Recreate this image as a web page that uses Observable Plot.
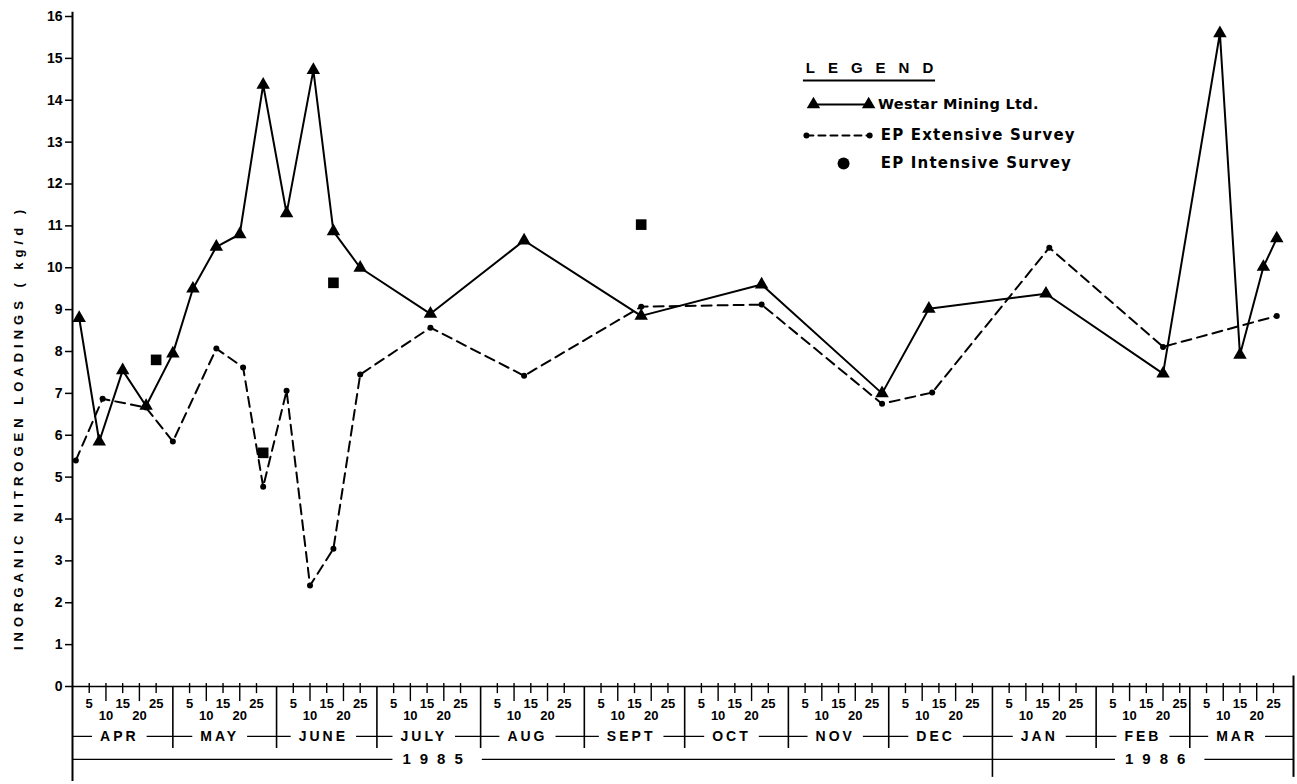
<!DOCTYPE html>
<html><head><meta charset="utf-8">
<script src="https://cdn.jsdelivr.net/npm/d3@7"></script>
<script src="https://cdn.jsdelivr.net/npm/@observablehq/plot@0.6"></script>
<style>
html,body{margin:0;padding:0;background:#fff;}
#chart svg{display:block;}
</style>
</head><body><div id="chart"></div>
<script>
const parse = d3.timeParse("%Y-%m-%d");

// Westar Mining Ltd. (solid line, triangles)
const westarDates = ["1985-04-02","1985-04-08","1985-04-15","1985-04-22","1985-04-30","1985-05-06","1985-05-13","1985-05-20","1985-05-27","1985-06-03","1985-06-11","1985-06-17","1985-06-25","1985-07-16","1985-08-13","1985-09-17","1985-10-23","1985-11-28","1985-12-12","1986-01-16","1986-02-20","1986-03-09","1986-03-15","1986-03-22","1986-03-26"];
const westarValues = [8.8, 5.85, 7.55, 6.7, 7.95, 9.5, 10.5, 10.8, 14.37, 11.3, 14.72, 10.87, 10.0, 8.9, 10.65, 8.85, 9.6, 7.0, 9.02, 9.38, 7.47, 15.6, 7.92, 10.02, 10.7];

// EP Extensive Survey (dashed line, small dots)
const extDates = ["1985-04-01","1985-04-09","1985-04-22","1985-04-30","1985-05-13","1985-05-21","1985-05-27","1985-06-03","1985-06-10","1985-06-17","1985-06-25","1985-07-16","1985-08-13","1985-09-17","1985-10-23","1985-11-28","1985-12-13","1986-01-17","1986-02-20","1986-03-26"];
const extValues = [5.4, 6.87, 6.66, 5.85, 8.07, 7.62, 4.77, 7.06, 2.41, 3.29, 7.45, 8.57, 7.42, 9.07, 9.12, 6.75, 7.02, 10.48, 8.11, 8.85];

// EP Intensive Survey (squares)
const intDates = ["1985-04-25","1985-05-27","1985-06-17","1985-09-17"];
const intValues = [7.8, 5.58, 9.64, 11.03];

// Axis labels
const yTicks = d3.range(0, 17);
const dayTickValues = [5, 10, 15, 20, 25];
const monthNames = ["APR","MAY","JUNE","JULY","AUG","SEPT","OCT","NOV","DEC","JAN","FEB","MAR"];
const yearLabels = ["1985", "1986"];
const legendLabels = ["Westar Mining Ltd.", "EP Extensive Survey", "EP Intensive Survey"];
const yLabel = "INORGANIC NITROGEN LOADINGS ( kg/d )";

const westar = westarDates.map((d, i) => ({date: parse(d), value: westarValues[i]}));
const ext = extDates.map((d, i) => ({date: parse(d), value: extValues[i]}));
const intens = intDates.map((d, i) => ({date: parse(d), value: intValues[i]}));

const start = new Date(1985, 3, 0), end = new Date(1986, 3, 0);
const monthStarts = d3.range(12).map(i => new Date(1985, 3 + i, 1));
const boundaries = monthStarts.map(m => d3.timeDay.offset(m, -1));
const dayTicks = monthStarts.flatMap(m => dayTickValues.map(d => ({date: new Date(m.getFullYear(), m.getMonth(), d), day: d})));
const months = monthStarts.map((m, i) => ({date: new Date(m.getFullYear(), m.getMonth(), 14), name: monthNames[i]}));
const years = [{date: new Date(1985, 6, 18), name: yearLabels[0]}, {date: new Date(1986, 1, 19), name: yearLabels[1]}];

// layout levels below the axis (in y units)
const L = {tickTop: 0.07, shortBot: -0.17, longBot: -0.36, lab1: -0.42, lab2: -0.69, month: -1.19, divBot: -1.48, year: -1.74, yearBot: -2.17, axisBot: -2.27};

const legendAnchor = new Date(1985, 10, 4);
const at = d => new Date(+legendAnchor + d * 864e5);
const FONT = "Liberation Sans, Arial, sans-serif";
const WIDE = "DejaVu Sans, sans-serif";
const DASH = "10,6";

const chart = Plot.plot({
  width: 1297, height: 784,
  marginLeft: 72, marginRight: 4, marginTop: 16, marginBottom: 98,
  style: {fontFamily: FONT, background: "white", color: "black", overflow: "visible"},
  x: {type: "time", domain: [start, end], axis: null},
  y: {domain: [0, 16], axis: null},
  marks: [
    // y axis
    Plot.axisY({ticks: yTicks, tickSize: 7, tickPadding: 3, fontSize: 14, fontWeight: "bold", label: null, strokeWidth: 1.5}),
    Plot.ruleX([start], {y1: 16.1, y2: L.axisBot, strokeWidth: 2}),
    Plot.text([yLabel], {frameAnchor: "left", textAnchor: "middle", rotate: -90, dx: -54, dy: 76, fontSize: 13, fontWeight: "bold"}),
    // x axis line
    Plot.ruleY([0], {x1: start, x2: end, strokeWidth: 1.6}),
    // day ticks
    Plot.ruleX(dayTicks.filter(t => t.day % 10 === 5), {x: "date", y1: L.tickTop, y2: L.shortBot, strokeWidth: 1.4}),
    Plot.ruleX(dayTicks.filter(t => t.day % 10 === 0), {x: "date", y1: L.tickTop, y2: L.longBot, strokeWidth: 1.4}),
    Plot.text(dayTicks.filter(t => t.day % 10 === 5), {x: "date", y: L.lab1, text: d => String(d.day), fontSize: 13, fontWeight: "bold"}),
    Plot.text(dayTicks.filter(t => t.day % 10 === 0), {x: "date", y: L.lab2, text: d => String(d.day), fontSize: 13, fontWeight: "bold"}),
    // month dividers
    Plot.ruleX(boundaries.slice(1).filter(b => b.getMonth() !== 11), {y1: 0, y2: L.divBot, strokeWidth: 1.6}),
    Plot.ruleX(boundaries.filter(b => b.getMonth() === 11), {y1: 0, y2: L.yearBot, strokeWidth: 1.6}),
    Plot.ruleX([end], {y1: 0.25, y2: L.yearBot, strokeWidth: 2}),
    // month row
    Plot.ruleY([L.month], {x1: start, x2: end, strokeWidth: 1.4}),
    Plot.text(months, {x: "date", y: L.month, text: "name", fontSize: 14, fontWeight: "bold", fill: "black"}),
    // year row
    Plot.ruleY([L.year], {x1: start, x2: end, strokeWidth: 1.4}),
    Plot.text(years, {x: "date", y: L.year, text: "name", fontSize: 15, fontWeight: "bold", fill: "black"}),
    // data
    Plot.line(westar, {x: "date", y: "value", stroke: "black", strokeWidth: 2}),
    Plot.line(ext, {x: "date", y: "value", stroke: "black", strokeWidth: 2, strokeDasharray: DASH}),
    Plot.dot(westar, {x: "date", y: "value", symbol: "triangle", fill: "black", r: 5}),
    Plot.dot(ext, {x: "date", y: "value", fill: "black", r: 3}),
    Plot.dot(intens, {x: "date", y: "value", symbol: "square", fill: "black", r: 6}),
    // legend
    Plot.text(["LEGEND"], {x: at(1.2), y: 14.76, textAnchor: "start", fontSize: 15, fontWeight: "bold"}),
    Plot.ruleY([14.47], {x1: at(0.5), x2: at(40), strokeWidth: 2}),
    Plot.line([at(3.5), at(20)], {x: d => d, y: () => 13.9, strokeWidth: 2}),
    Plot.dot([at(3.5), at(20)], {x: d => d, y: () => 13.9, symbol: "triangle", fill: "black", r: 5}),
    Plot.line([at(1.4), at(20.3)], {x: d => d, y: () => 13.16, strokeWidth: 2, strokeDasharray: "7,5"}),
    Plot.dot([at(1.4), at(20.3)], {x: d => d, y: () => 13.16, fill: "black", r: 3}),
    Plot.dot([at(12.5)], {x: d => d, y: () => 12.49, fill: "black", r: 6}),
    Plot.text(legendLabels, {x: (d, i) => at(i === 0 ? 22.8 : 23.6), y: (d, i) => [13.9, 13.16, 12.49][i], text: d => d, textAnchor: "start", fontSize: (d, i) => i === 0 ? 14.5 : 15, fontWeight: "bold", fontFamily: WIDE})
  ]
});

document.getElementById("chart").appendChild(chart);

// letter spacing for lettered labels, and white gaps in the month / year rows
chart.querySelectorAll("text").forEach(t => {
  const s = t.textContent;
  let gap = null;
  if (monthNames.includes(s)) { t.style.letterSpacing = "3px"; gap = 8; }
  else if (yearLabels.includes(s)) { t.style.letterSpacing = "9px"; gap = 10; }
  else if (s === "LEGEND") t.style.letterSpacing = "13px";
  else if (s === yLabel) t.style.letterSpacing = "5px";
  else if (s === legendLabels[0]) t.style.letterSpacing = "0.3px";
  else if (legendLabels.includes(s)) t.style.letterSpacing = "1.2px";
  if (gap !== null) {
    const bb = t.getBBox();
    const r = document.createElementNS("http://www.w3.org/2000/svg", "rect");
    r.setAttribute("x", bb.x - gap);
    r.setAttribute("y", bb.y);
    r.setAttribute("width", bb.width + 2 * gap);
    r.setAttribute("height", bb.height);
    r.setAttribute("fill", "white");
    r.setAttribute("stroke", "none");
    if (t.getAttribute("transform")) r.setAttribute("transform", t.getAttribute("transform"));
    t.parentNode.insertBefore(r, t);
  }
});
</script>
</body></html>
